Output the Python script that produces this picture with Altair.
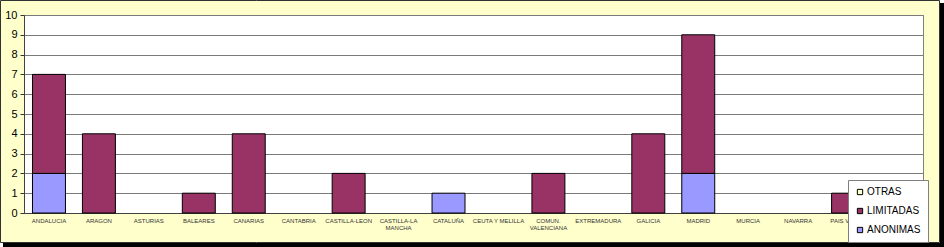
import altair as alt
import pandas as pd

regions = ["ANDALUCIA", "ARAGON", "ASTURIAS", "BALEARES", "CANARIAS", "CANTABRIA",
           "CASTILLA-LEON", "CASTILLA-LA MANCHA", "CATALUÑA", "CEUTA Y MELILLA",
           "COMUN. VALENCIANA", "EXTREMADURA", "GALICIA", "MADRID", "MURCIA",
           "NAVARRA", "PAIS VASCO", "LA RIOJA"]
anonimas = [2, 0, 0, 0, 0, 0, 0, 0, 1, 0, 0, 0, 0, 2, 0, 0, 0, 0]
limitadas = [5, 4, 0, 1, 4, 0, 2, 0, 0, 0, 2, 0, 4, 7, 0, 0, 1, 0]
otras = [0, 0, 0, 0, 0, 0, 0, 0, 0, 0, 0, 0, 0, 0, 0, 0, 0, 0]

series_names = ["OTRAS", "LIMITADAS", "ANONIMAS"]
series_colors = ["#FFFFCC", "#993366", "#9999FF"]
stack_rank = {"ANONIMAS": 1, "LIMITADAS": 2, "OTRAS": 3}

rows = []
for name, vals in zip(["ANONIMAS", "LIMITADAS", "OTRAS"], [anonimas, limitadas, otras]):
    for r, v in zip(regions, vals):
        rows.append({"region": r, "serie": name, "valor": v, "rank": stack_rank[name]})
df = pd.DataFrame(rows)

FONT = "Liberation Sans"

bars = alt.Chart(df).transform_filter("datum.valor > 0").mark_bar(
    stroke="black", strokeWidth=1
).encode(
    x=alt.X("region:N", sort=regions,
            scale=alt.Scale(domain=regions, paddingInner=0.34, paddingOuter=0.17),
            axis=alt.Axis(title=None, labelAngle=0, labelFontSize=6, labelColor="#333333",
                          labelFont=FONT, ticks=False, domain=True, domainColor="#404040",
                          labelPadding=4, labelLimit=200, labelLineHeight=7,
                          labelExpr="indexof(['CASTILLA-LA MANCHA','COMUN. VALENCIANA'], datum.label) >= 0 ? split(datum.label, ' ') : datum.label")),
    y=alt.Y("valor:Q", stack="zero",
            scale=alt.Scale(domain=[0, 10], nice=False),
            axis=alt.Axis(title=None, values=list(range(0, 11)), labelFontSize=11,
                          labelFont=FONT, labelColor="black", tickColor="#333333",
                          tickSize=4, domainColor="#404040", gridColor="#7a7a7a",
                          gridWidth=1, labelPadding=3)),
    color=alt.Color("serie:N",
                    scale=alt.Scale(domain=series_names, range=series_colors),
                    legend=alt.Legend(title=None, orient="none", legendX=824, legendY=165,
                                      fillColor="white", strokeColor="#808080",
                                      padding=7, rowPadding=9, symbolType="square",
                                      symbolSize=28, symbolStrokeColor="black",
                                      symbolStrokeWidth=1, labelFont=FONT,
                                      labelFontSize=10, labelColor="black",
                                      labelOffset=2, symbolOffset=0)),
    order=alt.Order("rank:Q", sort="ascending"),
)

one = alt.Data(values=[{}])

def rect(x, x2, y, y2, **kw):
    return alt.Chart(one).mark_rect(**kw).encode(
        x=alt.value(x), x2=alt.value(x2), y=alt.value(y), y2=alt.value(y2))

decor = [
    rect(916, 920, -12, 232, fill="black"),
    rect(-21, 920, 228, 232, fill="black"),
    rect(916, 920, -15, -12, fill="white"),
    rect(-24, -21, 228, 232, fill="white"),
    rect(-23.5, 915.5, -14.5, 227.5, fill="white", fillOpacity=0,
         stroke="#333333", strokeWidth=1),
]

chart = alt.layer(bars, *decor).properties(
    width=899, height=198,
    autosize=alt.AutoSizeParams(type="none"),
    padding={"left": 24, "top": 15, "right": 21, "bottom": 34},
    background="#FFFFCC",
).configure_view(
    fill="white", stroke="#808080", strokeWidth=1
)

chart.save("out.html", embed_options={"renderer": "svg", "actions": False})
